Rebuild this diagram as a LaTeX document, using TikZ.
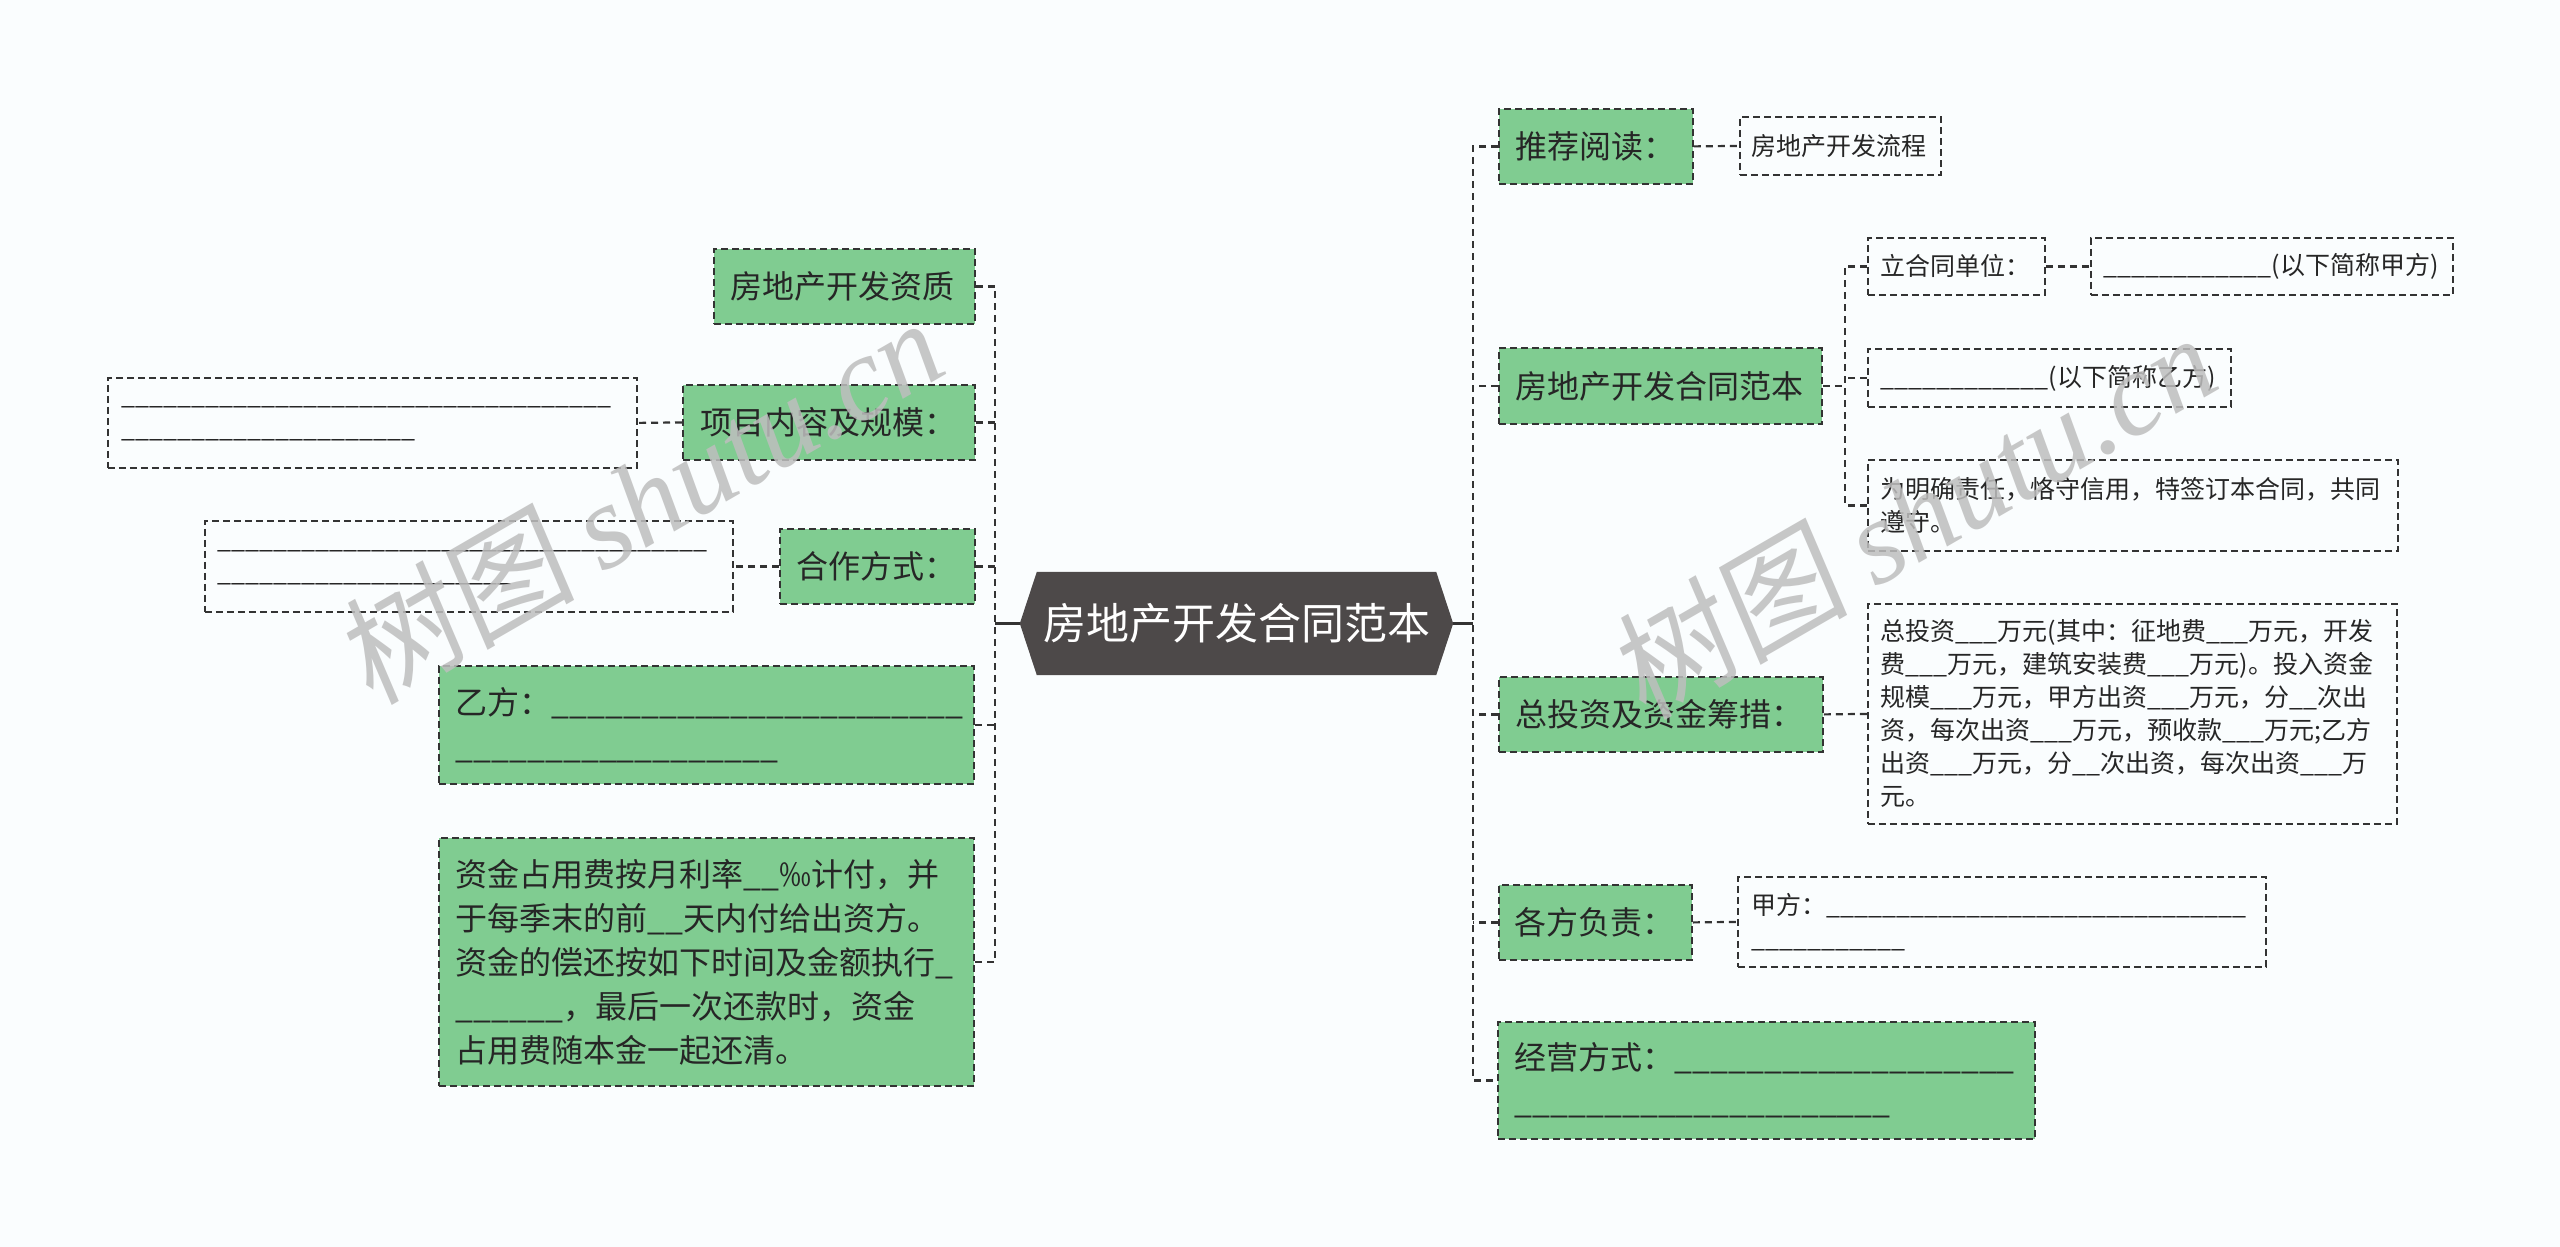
\documentclass[tikz,border=0pt]{standalone}
\usepackage{fontspec}
\setmainfont{Noto Sans CJK SC}
\newfontfamily\wmcjk[FakeSlant=0.12]{Noto Sans CJK SC}
\newfontfamily\wmlatin{Liberation Serif}
\usetikzlibrary{backgrounds}
\definecolor{bgc}{RGB}{250,253,254}
\definecolor{greenc}{RGB}{128,204,145}
\definecolor{linec}{RGB}{51,51,51}
\definecolor{textc}{RGB}{38,38,38}
\definecolor{rootc}{RGB}{77,73,73}
\definecolor{wmc}{RGB}{190,190,190}
\ExplSyntaxOn
\NewExpandableDocumentCommand\blankn{m}{\prg_replicate:nn{#1}{\textunderscore}}
\ExplSyntaxOff
\tikzset{
  conn/.style={draw=linec, line width=2.2pt, dash pattern=on 7pt off 5pt},
  rootconn/.style={draw=linec, line width=2.2pt},
  bx/.style={draw=linec, line width=1.8pt, dash pattern=on 7pt off 4pt, rectangle,
    anchor=north west, inner xsep=0pt, inner ysep=0pt, align=left, text=textc},
  gbox/.style={bx, fill=greenc, font=\fontsize{32}{44}\selectfont},
  wbox/.style={bx, font=\fontsize{25}{33}\selectfont},
  rootnode/.style={inner sep=0pt, minimum width=433pt, minimum height=103pt,
    text=white, font=\fontsize{43}{50}\selectfont},
  wm/.style={text=wmc, opacity=0.85, rotate=30, anchor=base west, inner sep=0pt,
    font=\fontsize{120}{130}\selectfont},
}
\begin{document}
\begin{tikzpicture}[x=1pt,y=-1pt]
\useasboundingbox (0,0) rectangle (2560,1247);
% root
\node[rootnode] (root) at (1236.5,623.5) {房地产开发合同范本};
\begin{scope}[on background layer]
  \fill[bgc] (0,0) rectangle (2560,1247);
  \fill[rootc] (root.west) -- ([xshift=17pt]root.north west) -- ([xshift=-17pt]root.north east)
     -- (root.east) -- ([xshift=-17pt]root.south east) -- ([xshift=17pt]root.south west) -- cycle;
\end{scope}
\coordinate (sl) at (995,0);
\coordinate (sr) at (1473,0);
\coordinate (ss) at (1845,0);
% left nodes
\node[gbox, minimum width=261pt, minimum height=75pt, text width=227pt] (L1) at (713,248) {房地产开发资质};
\node[gbox, minimum width=292pt, minimum height=75pt, text width=256pt] (L2) at (682,384) {项目内容及规模：};
\node[wbox, minimum width=529pt, minimum height=90pt, text width=501pt] (L2b) at (107,377) {\blankn{35}\\\blankn{21}};
\node[gbox, minimum width=195pt, minimum height=75pt, text width=161pt] (L3) at (779,528) {合作方式：};
\node[wbox, minimum width=528pt, minimum height=91pt, text width=502pt] (L3b) at (204,520) {\blankn{35}\\\blankn{21}};
\node[gbox, minimum width=535pt, minimum height=118pt, text width=501pt] (L4) at (438,665) {乙方：\blankn{23}\\\blankn{18}};
\node[gbox, minimum width=535pt, minimum height=248pt, text width=501pt] (L5) at (438,837) {资金占用费按月利率\blankn{2}‰计付，并\\于每季末的前\blankn{2}天内付给出资方。\\资金的偿还按如下时间及金额执行\blankn{1}\\\blankn{6}，最后一次还款时，资金\\占用费随本金一起还清。};
% right nodes
\node[gbox, minimum width=194pt, minimum height=75pt, text width=160pt] (R1) at (1498,108) {推荐阅读：};
\node[wbox, minimum width=201pt, minimum height=58pt, text width=177pt] (R1b) at (1739,116) {房地产开发流程};
\node[gbox, minimum width=323pt, minimum height=76pt, text width=289pt] (R2) at (1498,347) {房地产开发合同范本};
\node[wbox, minimum width=177pt, minimum height=57pt, text width=151pt] (R2a) at (1867,237) {立合同单位：};
\node[wbox, minimum width=362pt, minimum height=57pt, text width=336pt] (R2a1) at (2090,237) {\blankn{12}(以下简称甲方)};
\node[wbox, minimum width=363pt, minimum height=58pt, text width=337pt] (R2b) at (1867,348) {\blankn{12}(以下简称乙方)};
\node[wbox, minimum width=530pt, minimum height=91pt, text width=504pt] (R2c) at (1867,459) {为明确责任，恪守信用，特签订本合同，共同\\遵守。};
\node[gbox, minimum width=324pt, minimum height=75pt, text width=290pt] (R3) at (1498,676) {总投资及资金筹措：};
\node[wbox, minimum width=529pt, minimum height=220pt, text width=503pt] (R3b) at (1867,603) {总投资\blankn{3}万元(其中：征地费\blankn{3}万元，开发\\费\blankn{3}万元，建筑安装费\blankn{3}万元)。投入资金\\规模\blankn{3}万元，甲方出资\blankn{3}万元，分\blankn{2}次出\\资，每次出资\blankn{3}万元，预收款\blankn{3}万元;乙方\\出资\blankn{3}万元，分\blankn{2}次出资，每次出资\blankn{3}万\\元。};
\node[gbox, minimum width=193pt, minimum height=75pt, text width=161pt] (R4) at (1498,884) {各方负责：};
\node[wbox, minimum width=528pt, minimum height=90pt, text width=500pt] (R4b) at (1737,876) {甲方：\blankn{30}\\\blankn{11}};
\node[gbox, minimum width=537pt, minimum height=117pt, text width=503pt] (R5) at (1497,1021) {经营方式：\blankn{19}\\\blankn{21}};
% root connectors
\draw[rootconn] (root.west) -- (root.west -| sl);
\draw[rootconn] (root.east) -- (root.east -| sr);
% left connectors
\draw[conn] (L1.east) -- (L1.east -| sl) -- (L5.east -| sl) -- (L5.east);
\draw[conn] (L2.east) -- (L2.east -| sl);
\draw[conn] (L3.east) -- (L3.east -| sl);
\draw[conn] (L4.east) -- (L4.east -| sl);
\draw[conn] (L2.west) -- (L2b.east);
\draw[conn] (L3.west) -- (L3b.east);
% right connectors
\draw[conn] (R1.west) -- (R1.west -| sr) -- (R5.west -| sr) -- (R5.west);
\draw[conn] (R2.west) -- (R2.west -| sr);
\draw[conn] (R3.west) -- (R3.west -| sr);
\draw[conn] (R4.west) -- (R4.west -| sr);
\draw[conn] (R1.east) -- (R1b.west);
\draw[conn] (R2.east) -- (R2.east -| ss);
\draw[conn] (R2a.west) -- (R2a.west -| ss) -- (R2c.west -| ss) -- (R2c.west);
\draw[conn] (R2b.west) -- (R2b.west -| ss);
\draw[conn] (R2a.east) -- (R2a1.west);
\draw[conn] (R3.east) -- (R3b.west);
\draw[conn] (R4.east) -- (R4b.west);
% watermarks
\node[wm] (wm1) at (371,707) {\wmcjk 树图 \wmlatin\itshape shutu.cn};
\node[wm] (wm2) at (1644,722) {\wmcjk 树图 \wmlatin\itshape shutu.cn};
\end{tikzpicture}
\end{document}
